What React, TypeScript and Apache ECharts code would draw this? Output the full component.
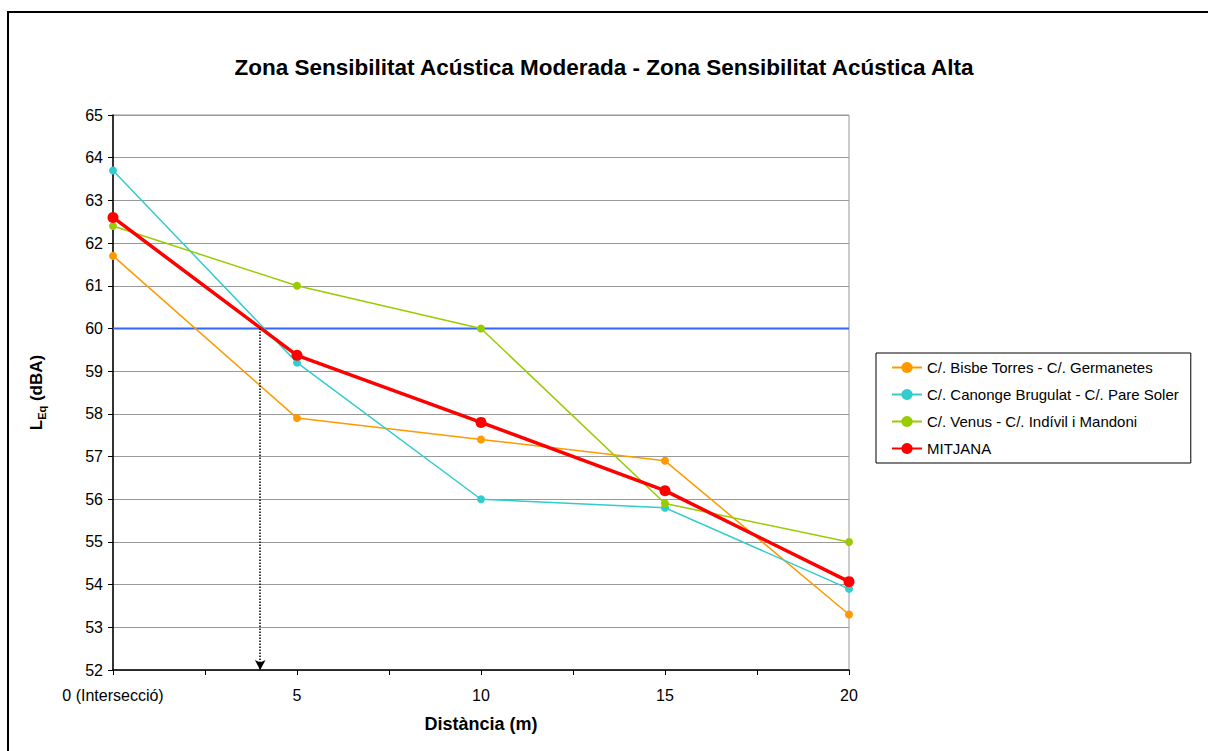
import React, { useEffect, useRef } from "react";
import * as echarts from "echarts";

const distances = [0, 5, 10, 15, 20];
const bisbeTorres = [61.7, 57.9, 57.4, 56.9, 53.3];
const canongeBrugulat = [63.7, 59.2, 56.0, 55.8, 53.9];
const venus = [62.4, 61.0, 60.0, 55.9, 55.0];
const mitjana = [62.6, 59.37, 57.8, 56.2, 54.07];
const seriesNames = [
  "C/. Bisbe Torres - C/. Germanetes",
  "C/. Canonge Brugulat - C/. Pare Soler",
  "C/. Venus - C/. Indívil i Mandoni",
  "MITJANA",
];
const xTickValues = [0, 5, 10, 15, 20];
const xTickLabels = ["0 (Intersecció)", "5", "10", "15", "20"];
const thresholdValue = 60;
const crossingDistance = 4;

const FONT = "'Liberation Sans', Arial, sans-serif";

export default function App() {
  const ref = useRef<HTMLDivElement>(null);
  useEffect(() => {
    if (!ref.current) return;
    const chart = echarts.init(ref.current, null, { renderer: "svg" });
    const pts = (ys: number[]) => distances.map((d, i) => [d, ys[i]]);
    const thin = (name: string, color: string, ys: number[]) => ({
      name,
      type: "line",
      data: pts(ys),
      symbol: "circle",
      symbolSize: 8,
      itemStyle: { color },
      lineStyle: { color, width: 1.5 },
    });
    chart.setOption({
      animation: false,
      textStyle: { fontFamily: FONT },
      title: {
        text: "Zona Sensibilitat Acústica Moderada - Zona Sensibilitat Acústica Alta",
        left: "center",
        top: 51,
        textStyle: { fontFamily: FONT, fontSize: 22.5, fontWeight: "bold", color: "#000" },
      },
      graphic: [
        {
          type: "rect",
          shape: { x: 8, y: 12, width: 1230, height: 800 },
          style: { fill: "none", stroke: "#000", lineWidth: 2 },
          silent: true,
        },
      ],
      grid: {
        left: 113,
        right: 359,
        top: 115,
        bottom: 81,
        show: true,
        borderColor: "#999",
        borderWidth: 1,
      },
      legend: {
        data: seriesNames,
        orient: "vertical",
        left: 876,
        top: 353,
        padding: [7, 12, 7, 15],
        itemGap: 12,
        itemWidth: 30,
        itemHeight: 14,
        borderColor: "#000",
        borderWidth: 1,
        textStyle: { fontFamily: FONT, fontSize: 15, color: "#000" },
      },
      xAxis: {
        type: "value",
        min: 0,
        max: 20,
        interval: 2.5,
        name: "Distància (m)",
        nameLocation: "middle",
        nameGap: 45,
        nameTextStyle: { fontFamily: FONT, fontSize: 18, fontWeight: "bold", color: "#000" },
        axisLine: { lineStyle: { color: "#000", width: 1.5 } },
        axisTick: { show: true, length: 5, lineStyle: { color: "#000" } },
        splitLine: { show: false },
        axisLabel: {
          fontFamily: FONT,
          fontSize: 16,
          color: "#000",
          margin: 17,
          formatter: (v: number) => {
            const i = xTickValues.indexOf(v);
            return i >= 0 ? xTickLabels[i] : "";
          },
        },
      },
      yAxis: {
        type: "value",
        min: 52,
        max: 65,
        interval: 1,
        name: "{a|L}{b|Eq}{a| (dBA)}",
        nameLocation: "middle",
        nameGap: 66,
        nameRotate: 90,
        nameTextStyle: {
          rich: {
            a: { fontFamily: FONT, fontSize: 17, fontWeight: "bold", color: "#000", lineHeight: 22 },
            b: { fontFamily: FONT, fontSize: 11, fontWeight: "bold", color: "#000", verticalAlign: "bottom", lineHeight: 22 },
          },
        },
        axisLine: { show: true, lineStyle: { color: "#000", width: 1.5 } },
        axisTick: { show: true, length: 5, lineStyle: { color: "#000" } },
        splitLine: { show: true, lineStyle: { color: "#999", width: 1 } },
        axisLabel: { fontFamily: FONT, fontSize: 16, color: "#000", margin: 10 },
      },
      series: [
        {
          name: "threshold",
          type: "line",
          data: [
            [xTickValues[0], thresholdValue],
            [xTickValues[xTickValues.length - 1], thresholdValue],
          ],
          symbol: "none",
          lineStyle: { color: "#3366FF", width: 2 },
          silent: true,
          markLine: {
            silent: true,
            symbol: ["none", "arrow"],
            symbolSize: [8, 10],
            label: { show: false },
            lineStyle: { color: "#000", type: "dotted", width: 1.5 },
            data: [[{ coord: [crossingDistance, thresholdValue] }, { coord: [crossingDistance, 52] }]],
          },
        },
        thin(seriesNames[0], "#FF9900", bisbeTorres),
        thin(seriesNames[1], "#33CCCC", canongeBrugulat),
        thin(seriesNames[2], "#99CC00", venus),
        {
          name: seriesNames[3],
          type: "line",
          data: pts(mitjana),
          symbol: "circle",
          symbolSize: 11,
          itemStyle: { color: "#FF0000" },
          lineStyle: { color: "#FF0000", width: 3.5 },
        },
      ],
    });
    return () => chart.dispose();
  }, []);
  return (
    <div
      ref={ref}
      style={{ position: "absolute", left: 0, top: 0, width: 1208, height: 751, background: "#fff" }}
    />
  );
}
